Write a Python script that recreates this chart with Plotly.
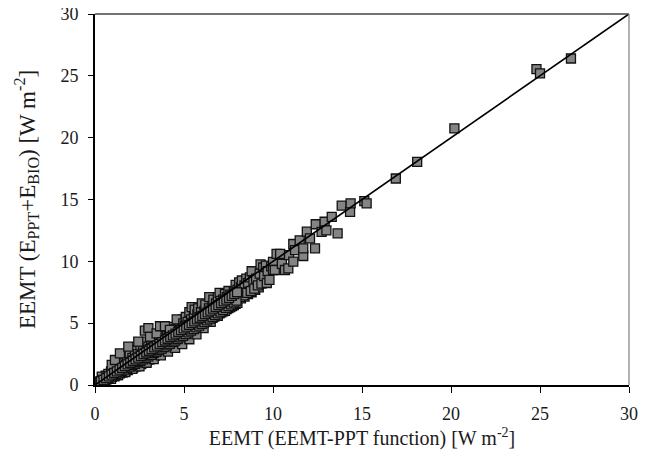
import plotly.graph_objects as go

# EEMT (EEMT-PPT function) [W m-2]  -- scattered points
x_vals = [
    0.15,0.2,0.25,0.3,0.35,0.4,0.45,0.5,0.55,0.6,0.65,0.7,0.75,0.8,0.85,0.9,0.95,1.0,1.05,1.1,
    1.15,1.2,1.25,1.3,1.35,1.4,1.45,1.5,1.55,1.6,1.65,1.7,1.75,1.8,1.85,1.9,1.95,2.0,2.05,2.1,
    2.15,2.2,2.25,2.3,2.35,2.4,2.45,2.5,2.55,2.6,2.65,2.7,2.75,2.8,2.85,2.9,2.95,3.0,3.05,3.1,
    3.15,3.2,3.25,3.3,3.35,3.4,3.45,3.5,3.55,3.6,3.65,3.7,3.75,3.8,3.85,3.9,3.95,4.0,4.05,4.1,
    4.15,4.2,4.25,4.3,4.35,4.4,4.45,4.5,4.55,4.6,4.65,4.7,4.75,4.8,4.85,4.9,4.95,5.0,
    0.38,0.94,1.12,1.4,1.87,2.43,2.8,3.0,3.09,3.46,3.65,3.93,4.21,4.59,4.96,
    5.05,5.1,5.15,5.2,5.3,5.35,5.4,5.43,5.5,5.55,5.6,5.7,5.75,5.8,5.9,5.95,6.0,6.1,6.15,6.2,
    6.3,6.4,6.42,6.5,6.6,6.65,6.7,6.8,6.9,6.95,7.0,7.05,7.15,7.2,7.3,7.35,7.4,7.5,7.55,7.6,
    7.7,7.75,7.8,7.9,7.95,8.0,8.1,8.15,8.2,8.25,8.35,8.4,8.5,8.55,8.6,8.7,8.75,8.8,8.9,8.95,
    9.05,9.15,9.25,9.3,9.35,9.45,9.5,9.6,9.65,9.7,9.8,9.9,10.0,10.0,
    10.1,10.2,10.4,10.5,10.67,10.86,10.9,11.14,11.14,11.24,11.5,11.7,11.7,11.9,12.08,12.36,
    12.4,12.73,12.9,13.0,13.3,13.63,13.86,14.33,14.36,15.13,15.26,
    16.9,18.1,20.19,24.8,25.0,26.74,
    0.22,0.32,0.42,0.52,0.62,0.72,0.82,0.92,1.02,1.12,1.22,1.32,1.42,1.52,1.62,1.72,1.82,1.92,
    2.02,2.12,2.22,2.32,2.42,2.52,2.62,2.72,2.82,2.92,3.02,3.12,3.22,3.32,3.42,3.52,3.62,3.72,
    3.82,3.92,4.02,4.12,4.22,4.32,4.42,4.52,4.62,4.72,4.82,4.92,5.02,5.12,5.22,5.32,5.42,5.52,
    5.62,5.72,5.82,5.92,6.02,6.12,6.22,6.32,6.42,6.52,6.62,6.72,6.82,6.92,
    0.5,0.9,1.3,1.7,2.1,2.5,2.9,3.3,3.7,4.1,4.5,4.9,5.3,5.7,6.1,6.5,6.9,7.3,
    0.3,0.45,0.6,0.75,0.9,1.05,1.2,1.35,1.5,1.65,1.8,1.95,2.1,2.25,2.4,2.55,2.7,2.85,3.0,3.15,
    3.3,3.45,3.6,3.75,3.9,4.05,4.2,4.35,4.5,4.65,4.8,4.95,5.1,5.25,5.4,5.55,5.7,5.85,6.0,6.15,
    6.3,6.45,6.6,6.75,6.9,7.05,7.2,7.35,7.5,7.65,7.8,7.95,
    0.33,0.48,0.63,0.78,0.93,1.08,1.23,1.38,1.53,1.68,1.83,1.98,2.13,2.28,2.43,2.58,2.73,2.88,3.03,3.18,
    3.33,3.48,3.63,3.78,3.93,4.08,4.23,4.38,4.53,4.68,4.83,4.98,5.13,5.28,5.43,5.58,5.73,5.88,6.03,6.18,
    6.33,6.48,6.63,6.78,6.93,7.08,7.23,7.38,7.53,7.68,7.83,7.98,
]
# EEMT (E_PPT + E_BIO) [W m-2]
y_vals = [
    0.1,0.2,0.15,0.3,0.25,0.45,0.3,0.55,0.4,0.75,0.45,0.6,0.9,0.5,0.7,1.1,0.65,0.85,1.3,0.7,
    1.0,1.55,0.8,1.15,1.8,0.95,1.3,2.0,1.0,1.45,1.75,1.15,1.6,2.3,1.2,1.7,2.6,1.3,1.85,2.2,
    1.4,2.0,2.8,1.5,2.15,2.5,1.6,2.3,3.2,1.7,2.45,2.8,1.8,2.6,3.5,1.95,2.75,3.1,2.05,2.9,
    3.7,2.2,3.05,3.4,2.35,3.2,4.0,2.5,3.3,3.7,2.65,3.45,4.2,2.8,3.6,4.0,2.95,3.75,4.4,3.1,
    3.9,4.25,3.25,4.05,4.7,3.4,4.2,4.5,3.55,4.35,5.0,3.7,4.5,4.8,3.85,4.65,5.3,4.0,
    0.67,1.62,2.02,2.56,3.1,3.5,4.4,4.6,3.9,4.17,4.75,4.75,4.45,5.3,4.99,
    4.8,5.5,4.3,5.1,5.9,4.5,5.3,6.3,4.7,5.5,6.1,4.9,5.7,6.2,5.1,5.9,6.6,5.3,6.0,6.5,
    5.45,6.2,7.1,5.65,6.4,6.9,5.85,6.6,7.1,6.05,7.45,6.8,6.2,6.9,7.35,6.4,7.1,7.6,6.55,7.3,
    7.0,6.7,7.5,8.1,6.9,7.7,8.3,7.1,7.9,8.45,7.25,8.05,8.6,7.45,8.25,8.7,7.6,9.2,8.4,7.8,
    8.6,8.05,9.0,9.75,8.2,9.5,8.8,9.65,8.25,9.2,8.5,9.6,9.95,9.3,
    9.3,10.6,10.6,9.8,9.3,9.43,10.5,9.97,11.4,10.9,11.7,10.43,11.05,12.4,11.86,11.05,
    13.0,12.39,13.2,12.5,13.6,12.26,14.5,14.0,14.69,14.87,14.69,
    16.7,18.05,20.75,25.55,25.2,26.4,
    0.18,0.22,0.35,0.38,0.5,0.52,0.68,0.7,0.85,0.88,1.0,1.05,1.2,1.2,1.38,1.38,1.55,1.55,
    1.72,1.7,1.9,1.88,2.05,2.02,2.25,2.2,2.4,2.35,2.55,2.5,2.75,2.65,2.9,2.8,3.1,3.0,
    3.25,3.15,3.4,3.3,3.6,3.45,3.75,3.6,3.95,3.8,4.1,3.95,4.3,4.15,4.45,4.3,4.6,4.5,
    4.8,4.7,4.95,4.9,5.1,5.1,5.3,5.3,5.45,5.5,5.6,5.7,5.8,5.9,
    0.3,0.5,0.8,1.05,1.3,1.5,1.8,2.1,2.4,2.7,3.0,3.3,3.7,4.1,4.6,5.1,5.6,6.0,
    0.22,0.33,0.45,0.56,0.68,0.79,0.9,1.02,1.13,1.25,1.37,1.48,1.6,1.72,1.84,1.96,2.08,2.2,2.32,2.44,
    2.57,2.69,2.82,2.94,3.07,3.2,3.33,3.46,3.59,3.72,3.85,3.98,4.12,4.25,4.39,4.52,4.66,4.8,4.94,5.08,
    5.22,5.36,5.5,5.65,5.79,5.94,6.08,6.23,6.38,6.52,6.67,6.82,
    0.29,0.42,0.56,0.7,0.84,0.97,1.1,1.25,1.38,1.52,1.66,1.8,1.94,2.07,2.21,2.35,2.49,2.63,2.77,2.9,
    3.04,3.18,3.32,3.46,3.6,3.74,3.88,4.02,4.16,4.3,4.44,4.58,4.72,4.86,5.0,5.15,5.3,5.44,5.58,5.73,
    5.88,6.02,6.17,6.31,6.46,6.61,6.76,6.9,7.05,7.2,7.35,7.5,
]

# dense, overlapping band just below the 1:1 line (where the cloud reads as solid black)
band_low_x = [
    0.4,0.5,0.6,0.7,0.8,0.9,1.0,1.1,1.2,1.3,
    1.4,1.5,1.6,1.7,1.8,1.9,2.0,2.1,2.2,2.3,
    2.4,2.5,2.6,2.7,2.8,2.9,3.0,3.1,3.2,3.3,
    3.4,3.5,3.6,3.7,3.8,3.9,4.0,4.1,4.2,4.3,
    4.4,4.5,4.6,4.7,4.8,4.9,5.0,5.1,5.2,5.3,
    5.4,5.5,5.6,5.7,5.8,5.9,6.0,6.1,6.2,6.3,
    6.4,6.5,6.6,6.7,6.8,6.9,7.0,7.1,7.2,7.3,
    7.4,7.5,7.6,7.7,7.8,7.9,8.0,
    8.2,8.4,8.6,8.8,9.0,9.2,
]
band_low_y = [
    0.33,0.41,0.49,0.58,0.65,0.74,0.82,0.9,0.99,1.06,
    1.15,1.23,1.31,1.4,1.47,1.56,1.64,1.72,1.81,1.88,
    1.97,2.05,2.13,2.22,2.29,2.38,2.46,2.54,2.63,2.7,
    2.79,2.87,2.95,3.04,3.11,3.2,3.28,3.36,3.45,3.52,
    3.61,3.69,3.77,3.86,3.93,4.02,4.1,4.18,4.27,4.34,
    4.43,4.51,4.59,4.68,4.76,4.85,4.93,5.01,5.1,5.18,
    5.27,5.36,5.44,5.53,5.61,5.7,5.79,5.87,5.96,6.04,
    6.13,6.22,6.3,6.39,6.47,6.56,6.65,
    7.0,7.15,7.35,7.5,7.7,7.9,
]
band_mid_x = [
    0.45,0.55,0.65,0.75,0.85,0.95,1.05,1.15,1.25,1.35,
    1.45,1.55,1.65,1.75,1.85,1.95,2.05,2.15,2.25,2.35,
    2.45,2.55,2.65,2.75,2.85,2.95,3.05,3.15,3.25,3.35,
    3.45,3.55,3.65,3.75,3.85,3.95,4.05,4.15,4.25,4.35,
    4.45,4.55,4.65,4.75,4.85,4.95,5.05,5.15,5.25,5.35,
    5.45,5.55,5.65,5.75,5.85,5.95,6.05,6.15,6.25,6.35,
    6.45,6.55,6.65,6.75,6.85,6.95,7.05,7.15,7.25,7.35,
    7.45,7.55,7.65,7.75,7.85,7.95,
]
band_mid_y = [
    0.42,0.52,0.61,0.71,0.8,0.89,0.99,1.08,1.18,1.27,
    1.36,1.46,1.55,1.65,1.74,1.83,1.93,2.02,2.12,2.21,
    2.3,2.4,2.49,2.59,2.68,2.77,2.87,2.96,3.06,3.15,
    3.24,3.34,3.43,3.53,3.62,3.71,3.81,3.9,4.0,4.09,
    4.18,4.28,4.37,4.47,4.56,4.65,4.75,4.84,4.94,5.03,
    5.12,5.22,5.31,5.41,5.5,5.59,5.69,5.78,5.88,5.97,
    6.06,6.16,6.25,6.35,6.44,6.53,6.63,6.72,6.82,6.91,
    7.0,7.1,7.19,7.29,7.38,7.47,
]

line_x = [0, 30]
line_y = [0, 30]
tick_vals = [0, 5, 10, 15, 20, 25, 30]

all_x = band_low_x + band_mid_x + x_vals
all_y = band_low_y + band_mid_y + y_vals

fig = go.Figure()
fig.add_trace(go.Scatter(
    x=all_x, y=all_y, mode="markers",
    marker=dict(symbol="square", size=9, color="#848484",
                line=dict(color="#111111", width=1.3)),
    showlegend=False,
))
fig.add_trace(go.Scatter(
    x=line_x, y=line_y, mode="lines",
    line=dict(color="black", width=1.7), showlegend=False,
))

font_family = "Liberation Serif, Times New Roman, serif"
fig.update_layout(
    width=646, height=463,
    margin=dict(l=87, r=25, t=6, b=86),
    paper_bgcolor="white", plot_bgcolor="white",
    font=dict(family=font_family, color="#1a1a1a", size=18),
    shapes=[
        dict(type="line", xref="paper", yref="paper", x0=0, x1=1, y0=1, y1=1,
             line=dict(color="#444", width=1.3)),
        dict(type="line", xref="paper", yref="paper", x0=1, x1=1, y0=0, y1=1,
             line=dict(color="#888", width=1.3)),
    ],
)
fig.update_xaxes(
    range=[0, 30], tickvals=tick_vals, ticks="outside", ticklen=6, tickwidth=1.2,
    tickcolor="black", showline=True, linecolor="black", linewidth=1.6,
    showgrid=False, zeroline=False, ticklabelstandoff=6, ticklabeloverflow="allow",
    automargin=False,
    tickfont=dict(size=18, family=font_family),
    title=dict(text="EEMT (EEMT-PPT function) [W m<sup>-2</sup>]",
               font=dict(size=20, family=font_family), standoff=8),
)
fig.update_yaxes(
    range=[0, 30], tickvals=tick_vals, ticks="outside", ticklen=5, tickwidth=1.2,
    tickcolor="black", showline=True, linecolor="black", linewidth=1.6,
    showgrid=False, zeroline=False, ticklabelstandoff=6, ticklabeloverflow="allow",
    automargin=False,
    tickfont=dict(size=18, family=font_family),
    title=dict(text="EEMT (E<sub>PPT</sub>+E<sub>BIO</sub>) [W m<sup>-2</sup>]",
               font=dict(size=23, family=font_family), standoff=19),
)

fig.write_html("out.html")
